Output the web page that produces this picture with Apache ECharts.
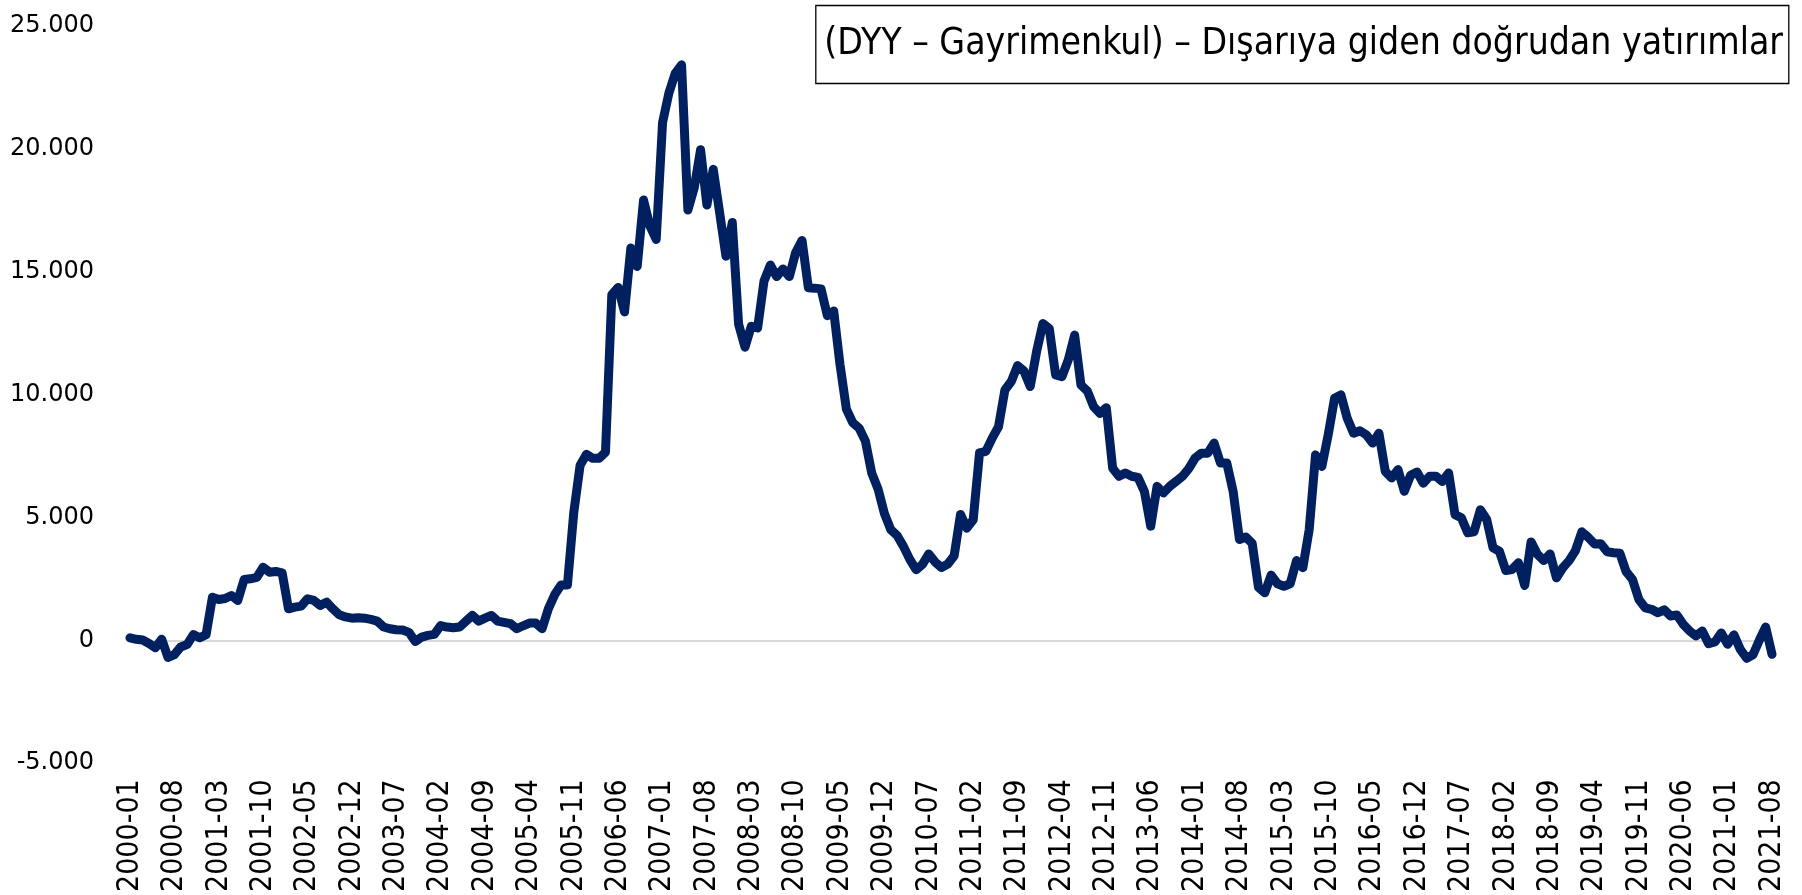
<!DOCTYPE html>
<html>
<head>
<meta charset="utf-8">
<title>DYY - Gayrimenkul</title>
<script src="https://cdn.jsdelivr.net/npm/echarts@6/dist/echarts.min.js"></script>
<style>
  * { margin: 0; padding: 0; }
  html, body { width: 100%; height: 100%; background: #fff; }
  #chart { width: 1802px; height: 895px; }
</style>
</head>
<body>
<div id="chart"></div>
<script>
// aylık seri, 2000-01 .. 2021-08
var firstYear = 2000, lastYear = 2021, lastMonth = 8;
var months = [];
for (var y = firstYear; y <= lastYear; y++) {
  for (var m = 1; m <= 12; m++) {
    if (y === lastYear && m > lastMonth) break;
    months.push(y + "-" + (m < 10 ? "0" + m : m));
  }
}

var values2000_2004 = [
  100, 40, 10, -130, -300, 40, -700, -580, -270, -175, 230, 100,
  230, 1750, 1660, 1700, 1820, 1620, 2470, 2500, 2560, 2970, 2770, 2800,
  2740, 1280, 1350, 1390, 1690, 1620, 1420, 1550, 1280, 1040, 950, 900,
  920, 900, 850, 780, 540, 470, 430, 420, 320, -50, 130, 200,
  240, 600, 540, 510, 540, 780, 1010, 780, 900, 1010, 780, 730
];
var values2005_2009 = [
  680, 470, 590, 700, 700, 470, 1290, 1860, 2250, 2250, 5200, 7120,
  7560, 7400, 7400, 7650, 14050, 14350, 13350, 15950, 15200, 17900, 16850, 16300,
  21050, 22250, 23050, 23400, 17500, 18400, 19950, 17700, 19150, 17400, 15620, 16990,
  12850, 11920, 12770, 12700, 14600, 15260, 14790, 15100, 14790, 15770, 16260, 14340,
  14320, 14290, 13200, 13390, 11200, 9400, 8850, 8630, 8100, 6800, 6150, 5150
];
var values2010_2014 = [
  4500, 4260, 3820, 3290, 2870, 3090, 3510, 3180, 2960, 3100, 3440, 5120,
  4560, 4900, 7620, 7680, 8220, 8690, 10180, 10520, 11170, 10950, 10320, 11740,
  12880, 12680, 10790, 10720, 11400, 12410, 10380, 10140, 9500, 9230, 9460, 7000,
  6670, 6800, 6670, 6620, 6060, 4640, 6260, 5990, 6260, 6460, 6670, 6980,
  7410, 7610, 7610, 8020, 7210, 7210, 6060, 4100, 4200, 3950, 2150, 1930
];
var values2015_2019 = [
  2650, 2300, 2200, 2300, 3240, 2950, 4500, 7540, 7070, 8360, 9840, 9980,
  9030, 8420, 8520, 8360, 8020, 8420, 6870, 6600, 6940, 6060, 6710, 6840,
  6390, 6670, 6670, 6460, 6800, 5110, 4980, 4370, 4410, 5310, 4910, 3760,
  3620, 2840, 2880, 3150, 2230, 4000, 3500, 3240, 3510, 2540, 2950, 3240,
  3650, 4410, 4190, 3920, 3930, 3600, 3560, 3540, 2790, 2470, 1660, 1320
];
var values2020_2021 = [
  1260, 1120, 1240, 990, 1030, 650, 380, 180, 380, -140, -70, 300,
  -160, 220, -370, -730, -590, 0, 540, -570
];
var outgoing = [].concat(values2000_2004, values2005_2009, values2010_2014,
                         values2015_2019, values2020_2021);

var yTicks = { min: -5000, max: 25000, step: 5000 };
var legendText = "(DYY \u2013 Gayrimenkul) \u2013 Dışarıya giden doğrudan yatırımlar";

function thousands (v) {
  var s = String(Math.abs(v)).replace(/\B(?=(\d{3})+(?!\d))/g, ".");
  return (v < 0 ? "-" : "") + s;
}

var chart = echarts.init(document.getElementById("chart"));
chart.setOption({
  animation: false,
  backgroundColor: "#fff",
  title: {
    text: legendText,
    right: 13,
    top: 5,
    padding: [14, 6, 14, 9],
    borderColor: "#000",
    borderWidth: 1.3,
    textStyle: {
      fontFamily: "DejaVu Sans Condensed, DejaVu Sans",
      fontWeight: "normal",
      fontSize: 37,
      color: "#000",
      lineHeight: 51
    }
  },
  grid: {
    left: 130,
    right: 30,
    top: 25.5,
    bottom: 130
  },
  xAxis: {
    type: "category",
    boundaryGap: false,
    data: months,
    axisLine: { show: false, onZero: false },
    axisTick: { show: false },
    axisLabel: {
      interval: 6,
      rotate: 90,
      margin: 16,
      color: "#000",
      fontFamily: "Liberation Sans Narrow, DejaVu Sans Condensed, Liberation Sans",
      fontSize: 30
    },
    splitLine: { show: false }
  },
  yAxis: {
    type: "value",
    min: yTicks.min,
    max: yTicks.max,
    interval: yTicks.step,
    axisLine: { show: false },
    axisTick: { show: false },
    splitLine: { show: false },
    axisLabel: {
      margin: 36,
      color: "#000",
      fontFamily: "DejaVu Sans",
      fontSize: 24,
      formatter: thousands
    }
  },
  series: [
    {
      name: legendText,
      type: "line",
      data: outgoing,
      showSymbol: false,
      symbol: "none",
      lineStyle: {
        color: "#002060",
        width: 9,
        cap: "round",
        join: "round"
      },
      markLine: {
        silent: true,
        symbol: "none",
        label: { show: false },
        lineStyle: { color: "#d9d9d9", width: 2, type: "solid" },
        data: [{ yAxis: 0 }],
        z: 1
      },
      z: 3
    }
  ]
});
</script>
</body>
</html>
